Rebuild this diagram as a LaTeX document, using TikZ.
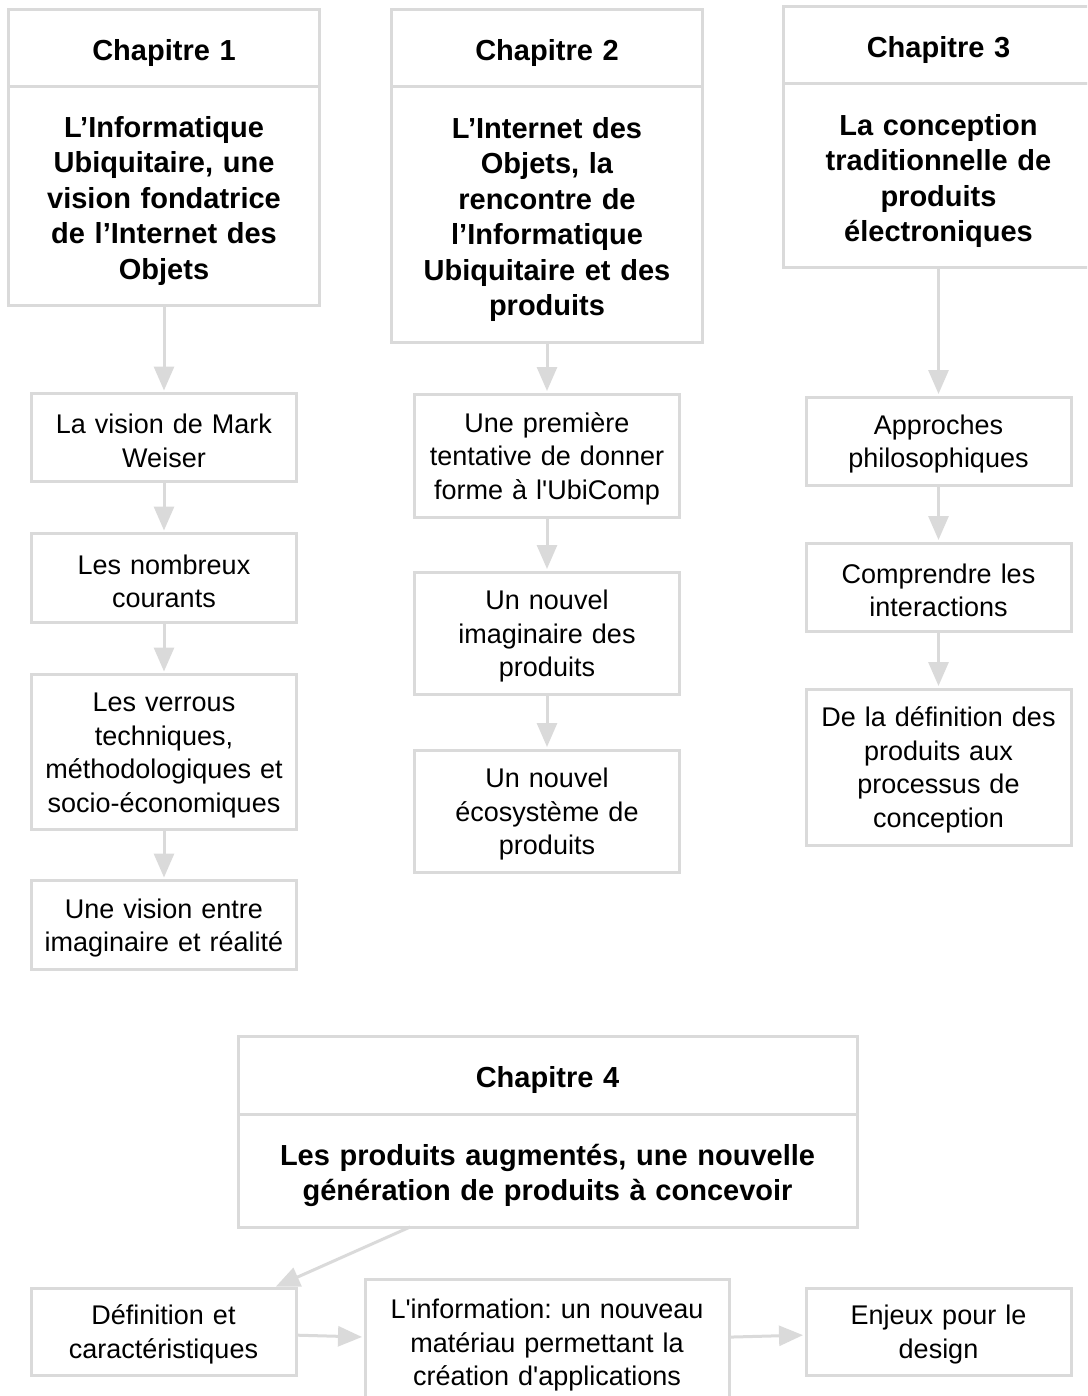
\documentclass[tikz,border=0pt]{standalone}
\usepackage{fontspec}
\setmainfont{Liberation Sans}[Ligatures=TeXOff]
\usetikzlibrary{arrows.meta,positioning,calc}
\definecolor{linegray}{RGB}{218,218,218}
\frenchspacing

\begin{document}
\begin{tikzpicture}[x=1pt,y=-1pt,->,>={Triangle[length=24pt,width=20pt]},shorten >=3pt,
                    line width=3pt,draw=linegray,node distance=52pt]
  \tikzstyle{every node}=[outer sep=0pt]
  \tikzstyle{chap}=[rectangle,draw=linegray,fill=white,align=center,text width=290pt,
                    minimum width=311pt,minimum height=77pt,font=\fontsize{29}{35.5}\selectfont\bfseries,
                    execute at begin node=\rule{0pt}{31pt}]
  \tikzstyle{part}=[rectangle,draw=linegray,fill=white,align=center,text width=250pt,
                    minimum width=265pt,minimum height=88pt,font=\fontsize{27}{33.5}\selectfont,
                    execute at begin node=\rule{0pt}{26pt}]

  \useasboundingbox (0,0) rectangle (1087,1396);
  \clip (0,0) rectangle (1087,1396);

  % chapitre 1
  \node[chap] (c1h) at (164,48) {Chapitre 1};
  \node[chap,minimum height=219pt] (c1b) [below=0pt of c1h]
    {L’Informatique\\Ubiquitaire, une\\vision fondatrice\\de l’Internet des\\Objets};
  \node[part] (w1) [below=88pt of c1b] {La vision de Mark\\Weiser};
  \node[part,minimum height=89pt] (w2) [below=52pt of w1] {Les nombreux\\courants};
  \node[part,minimum height=155pt] (w3) [below=52pt of w2]
    {Les verrous\\techniques,\\méthodologiques et\\socio-économiques};
  \node[part,minimum height=89pt] (w4) [below=51pt of w3] {Une vision entre\\imaginaire et réalité};

  % chapitre 2
  \node[chap] (c2h) at (547,48.5) {Chapitre 2};
  \node[chap,minimum height=255pt] (c2b) [below=0pt of c2h]
    {L’Internet des\\Objets, la\\rencontre de\\l’Informatique\\Ubiquitaire et des\\produits};
  \node[part,minimum height=123pt] (v1) [below=52pt of c2b]
    {Une première\\tentative de donner\\forme à l'UbiComp};
  \node[part,minimum height=122pt] (v2) [below=55pt of v1] {Un nouvel\\imaginaire des\\produits};
  \node[part,minimum height=122pt] (v3) [below=56pt of v2] {Un nouvel\\écosystème de\\produits};

  % chapitre 3
  \node[chap] (c3h) at (938.5,45.5) {Chapitre 3};
  \node[chap,minimum height=184pt] (c3b) [below=0pt of c3h]
    {La conception\\traditionnelle de\\produits\\électroniques};
  \node[part] (a1) [below=129pt of c3b] {Approches\\philosophiques};
  \node[part] (a2) [below=58pt of a1] {Comprendre les\\interactions};
  \node[part,minimum height=156pt] (a3) [below=58pt of a2]
    {De la définition des\\produits aux\\processus de\\conception};

  % chapitre 4
  \node[chap,text width=580pt,minimum width=619pt,minimum height=78pt] (c4h) at (547.5,1075) {Chapitre 4};
  \node[chap,text width=580pt,minimum width=619pt,minimum height=113pt] (c4b) [below=0pt of c4h]
    {Les produits augmentés, une nouvelle\\génération de produits à concevoir};
  \node[part,minimum height=87pt] (def) at (163.5,1331.5) {Définition et\\caractéristiques};
  \node[part,text width=350pt,minimum width=364pt,minimum height=126pt] (info) at (547,1342)
    {L'information: un nouveau\\matériau permettant la\\création d'applications};
  \node[part,minimum height=87pt] (enj) at (938.5,1331.5) {Enjeux pour le\\design};

  \path (c1b) edge (w1)
        (w1) edge (w2)
        (w2) edge (w3)
        (w3) edge (w4)
        (c2b) edge (v1)
        (v1) edge (v2)
        (v2) edge (v3)
        (c3b) edge (a1)
        (a1) edge (a2)
        (a2) edge (a3)
        ($(c4b.south west)!0.278!(c4b.south east)$) edge ($(def.north west)!0.913!(def.north east)$)
        (def) edge (info)
        (info) edge (enj);
\end{tikzpicture}
\end{document}
